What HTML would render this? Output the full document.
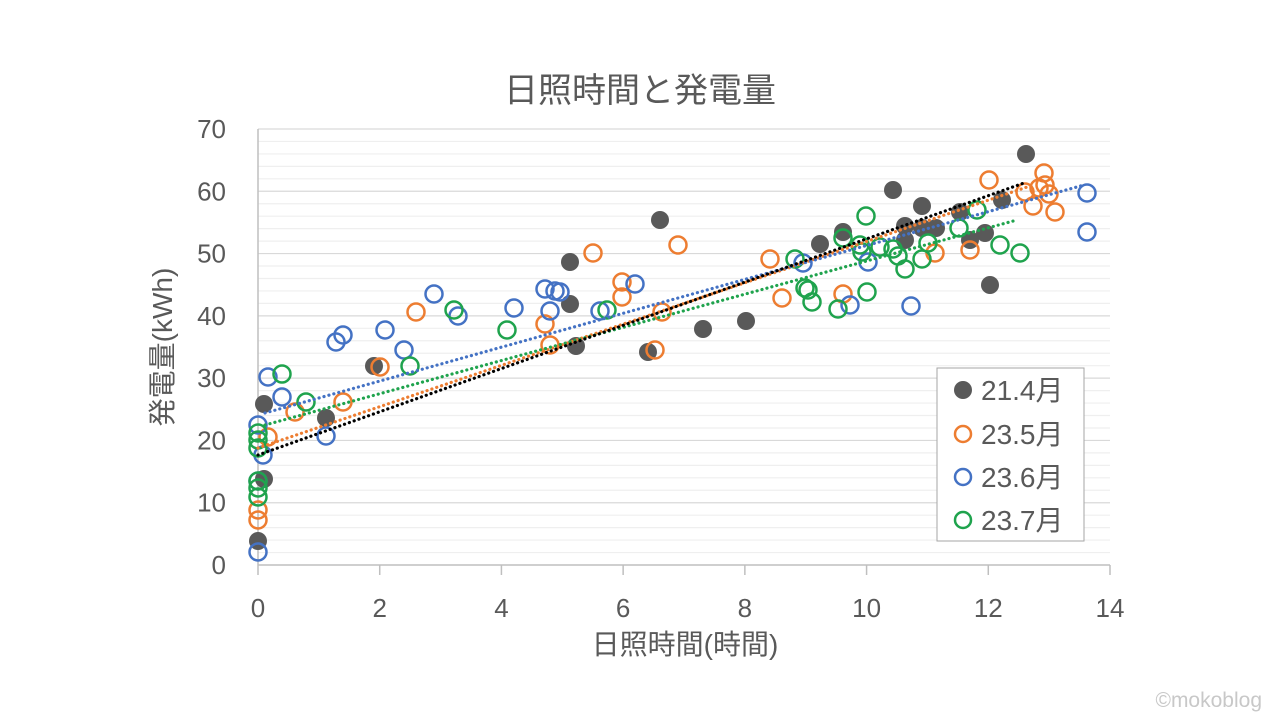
<!DOCTYPE html>
<html><head><meta charset="utf-8"><style>
html,body{margin:0;padding:0;background:#fff;}
svg{display:block;font-family:"Liberation Sans","Noto Sans CJK JP",sans-serif;}
</style></head><body>
<svg id="s" width="1280" height="720" viewBox="0 0 1280 720" xmlns="http://www.w3.org/2000/svg">
<rect width="1280" height="720" fill="#fff"/>
<g id="grid"></g>
<line x1="258" y1="129" x2="258" y2="565" stroke="#bfbfbf" stroke-width="1.5"/>
<line x1="258" y1="565" x2="1110" y2="565" stroke="#bfbfbf" stroke-width="1.5"/>
<g id="ticks"></g>
<g id="pts"></g>
<g stroke-dasharray="0.1 5" stroke-width="3.2" stroke-linecap="round" fill="none">
<line x1="258" y1="448" x2="1033" y2="185" stroke="#ED7D31"/>
<line x1="265" y1="413" x2="1084" y2="185" stroke="#4472C4"/>
<line x1="265" y1="425" x2="1017" y2="220" stroke="#1FA34D"/>
<line x1="258" y1="455" x2="1024" y2="183" stroke="#000"/>
</g>
<text x="640" y="102" text-anchor="middle" font-size="34" fill="#595959">日照時間と発電量</text>
<text x="685" y="654" text-anchor="middle" font-size="28" fill="#595959">日照時間(時間)</text>
<text transform="translate(172,347) rotate(-90)" text-anchor="middle" font-size="28" fill="#595959">発電量(kWh)</text>
<g id="lab" font-size="26" fill="#595959"></g>
<rect x="937" y="368" width="147" height="173" fill="#fff" stroke="#a6a6a6" stroke-width="1"/>
<circle cx="963" cy="390" r="9" fill="#595959"/>
<circle cx="963" cy="434" r="8" fill="none" stroke="#ED7D31" stroke-width="2.5"/>
<circle cx="963" cy="477" r="8" fill="none" stroke="#4472C4" stroke-width="2.5"/>
<circle cx="963" cy="520" r="8" fill="none" stroke="#1FA34D" stroke-width="2.5"/>
<g font-size="28" fill="#595959">
<text x="981" y="400">21.4月</text>
<text x="981" y="444">23.5月</text>
<text x="981" y="487">23.6月</text>
<text x="981" y="530">23.7月</text>
</g>
<text x="1262" y="707" text-anchor="end" font-size="21" fill="#c8c8c8">©mokoblog</text>
</svg>
<script>
const NS="http://www.w3.org/2000/svg";
function el(p,t,a){const e=document.createElementNS(NS,t);for(const k in a)e.setAttribute(k,a[k]);document.getElementById(p).appendChild(e);return e;}
for(let v=2;v<=70;v+=2){const y=565-v*436/70;el('grid','line',{x1:258,x2:1110,y1:y,y2:y,stroke:(v%10==0)?'#d9d9d9':'#efefef','stroke-width':1.2});}
for(let v=0;v<=70;v+=10){const y=565-v*436/70;const t=el('lab','text',{x:226,y:y+9,'text-anchor':'end'});t.textContent=v;}
for(let v=0;v<=14;v+=2){const x=258+v*852/14;el('ticks','line',{x1:x,x2:x,y1:565,y2:575,stroke:'#bfbfbf','stroke-width':1.5});const t=el('lab','text',{x:x,y:617,'text-anchor':'middle'});t.textContent=v;}
const dark=[[264,404],[264,479],[258,541],[326,418],[374,366],[570,262],[570,304],[576,346],[660,220],[648,352],[703,329],[746,321],[820,244],[843,232],[893,190],[905,226],[905,240],[922,206],[922,228],[960,212],[985,233],[990,285],[1002,200],[1026,154],[970,240],[936,228]];
const orange=[[258,520],[258,510],[295,412],[268,437],[343,402],[380,367],[416,312],[545,324],[550,345],[593,253],[622,282],[622,297],[655,350],[662,312],[678,245],[770,259],[782,298],[843,294],[935,253],[970,250],[989,180],[1025,192],[1033,206],[1039,188],[1044,173],[1049,194],[1055,212],[1045,185]];
const blue=[[258,552],[258,425],[258,481],[263,455],[268,377],[282,397],[326,436],[336,342],[343,335],[385,330],[404,350],[434,294],[458,316],[514,308],[545,289],[555,291],[550,311],[560,292],[600,311],[635,284],[850,305],[868,262],[911,306],[1087,193],[1087,232],[803,263]];
const green=[[258,448],[258,433],[258,440],[258,497],[258,488],[258,481],[282,374],[306,402],[410,366],[454,310],[507,330],[607,310],[795,259],[805,288],[808,290],[812,302],[838,309],[843,238],[860,245],[866,216],[867,292],[893,249],[898,256],[905,269],[922,259],[928,243],[959,228],[1000,245],[1020,253],[977,210],[862,252],[880,247]];
dark.forEach(p=>el('pts','circle',{cx:p[0],cy:p[1],r:9,fill:'#595959'}));
[[orange,'#ED7D31'],[blue,'#4472C4'],[green,'#1FA34D']].forEach(([a,c])=>a.forEach(p=>el('pts','circle',{cx:p[0],cy:p[1],r:8.5,fill:'none',stroke:c,'stroke-width':2.5})));
</script>
</body></html>
